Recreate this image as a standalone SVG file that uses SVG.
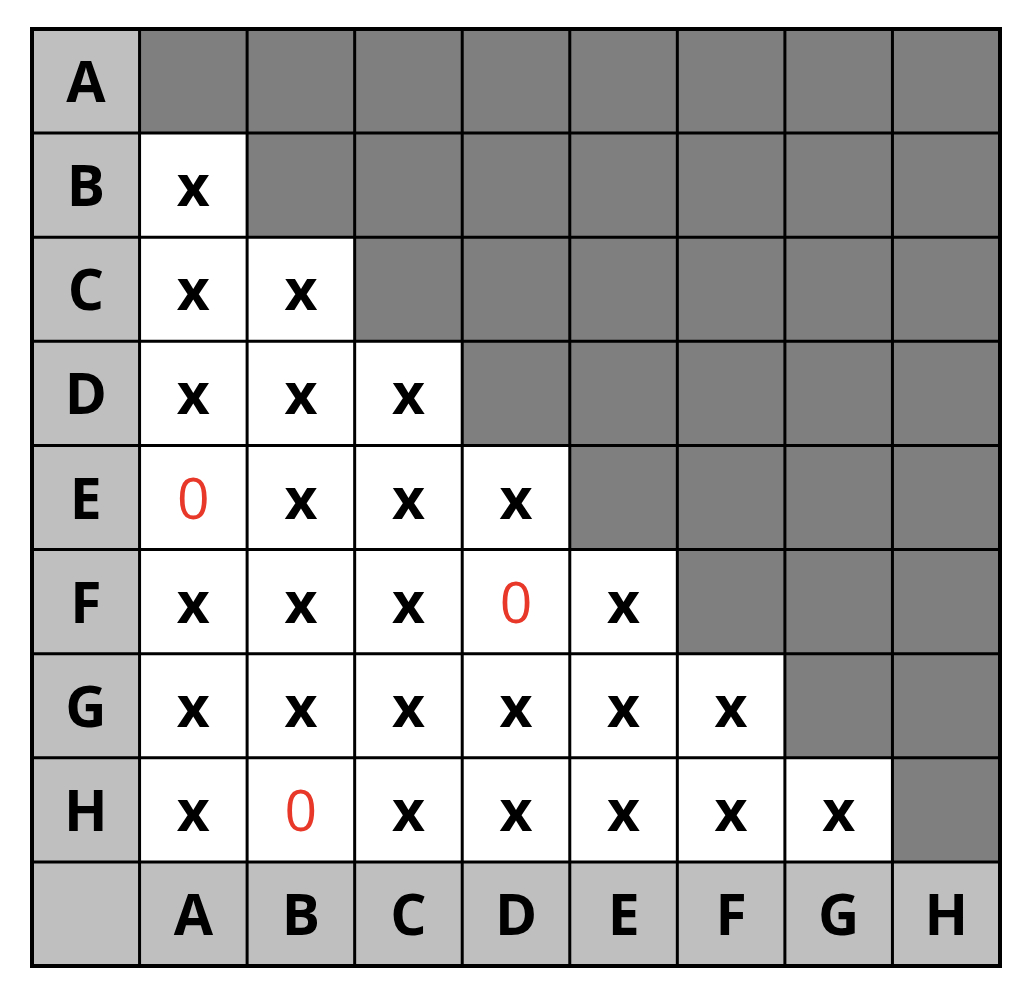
<svg xmlns="http://www.w3.org/2000/svg" width="1032" height="994" viewBox="0 0 1032 994">
<style>
.h{fill:#BFBFBF}
.d{fill:#7F7F7F}
.w{fill:#FFFFFF}
text{font-family:"Open Sans","Liberation Sans",sans-serif;font-size:57px;text-anchor:middle}
.b{font-weight:bold;fill:#000}
.z{font-weight:normal;fill:#E8382A}
.grid{fill:none;stroke:#000;stroke-width:3}
.outer{fill:none;stroke:#000;stroke-width:4}
</style>
<rect width="1032" height="994" fill="#FFFFFF"/>
<g id="row-A">
<rect class="h" x="32" y="29" width="107.56" height="104.11"/><text class="b" x="85.8" y="102.1">A</text>
<rect class="d" x="139.56" y="29" width="860.44" height="104.11"/>
</g>
<g id="row-B">
<rect class="h" x="32" y="133.11" width="107.56" height="104.11"/><text class="b" x="85.8" y="206.2">B</text>
<g id="B-A"><rect class="w" x="139.56" y="133.11" width="107.56" height="104.11"/><text class="b" x="193.3" y="206.2">x</text></g>
<rect class="d" x="247.11" y="133.11" width="752.89" height="104.11"/>
</g>
<g id="row-C">
<rect class="h" x="32" y="237.22" width="107.56" height="104.11"/><text class="b" x="85.8" y="310.3">C</text>
<g id="C-A"><rect class="w" x="139.56" y="237.22" width="107.56" height="104.11"/><text class="b" x="193.3" y="310.3">x</text></g>
<g id="C-B"><rect class="w" x="247.11" y="237.22" width="107.56" height="104.11"/><text class="b" x="300.9" y="310.3">x</text></g>
<rect class="d" x="354.67" y="237.22" width="645.33" height="104.11"/>
</g>
<g id="row-D">
<rect class="h" x="32" y="341.33" width="107.56" height="104.11"/><text class="b" x="85.8" y="414.4">D</text>
<g id="D-A"><rect class="w" x="139.56" y="341.33" width="107.56" height="104.11"/><text class="b" x="193.3" y="414.4">x</text></g>
<g id="D-B"><rect class="w" x="247.11" y="341.33" width="107.56" height="104.11"/><text class="b" x="300.9" y="414.4">x</text></g>
<g id="D-C"><rect class="w" x="354.67" y="341.33" width="107.56" height="104.11"/><text class="b" x="408.4" y="414.4">x</text></g>
<rect class="d" x="462.22" y="341.33" width="537.78" height="104.11"/>
</g>
<g id="row-E">
<rect class="h" x="32" y="445.44" width="107.56" height="104.11"/><text class="b" x="85.8" y="518.5">E</text>
<g id="E-A"><rect class="w" x="139.56" y="445.44" width="107.56" height="104.11"/><text class="z" x="193.3" y="518.5">0</text></g>
<g id="E-B"><rect class="w" x="247.11" y="445.44" width="107.56" height="104.11"/><text class="b" x="300.9" y="518.5">x</text></g>
<g id="E-C"><rect class="w" x="354.67" y="445.44" width="107.56" height="104.11"/><text class="b" x="408.4" y="518.5">x</text></g>
<g id="E-D"><rect class="w" x="462.22" y="445.44" width="107.56" height="104.11"/><text class="b" x="516.0" y="518.5">x</text></g>
<rect class="d" x="569.78" y="445.44" width="430.22" height="104.11"/>
</g>
<g id="row-F">
<rect class="h" x="32" y="549.56" width="107.56" height="104.11"/><text class="b" x="85.8" y="622.6">F</text>
<g id="F-A"><rect class="w" x="139.56" y="549.56" width="107.56" height="104.11"/><text class="b" x="193.3" y="622.6">x</text></g>
<g id="F-B"><rect class="w" x="247.11" y="549.56" width="107.56" height="104.11"/><text class="b" x="300.9" y="622.6">x</text></g>
<g id="F-C"><rect class="w" x="354.67" y="549.56" width="107.56" height="104.11"/><text class="b" x="408.4" y="622.6">x</text></g>
<g id="F-D"><rect class="w" x="462.22" y="549.56" width="107.56" height="104.11"/><text class="z" x="516.0" y="622.6">0</text></g>
<g id="F-E"><rect class="w" x="569.78" y="549.56" width="107.56" height="104.11"/><text class="b" x="623.6" y="622.6">x</text></g>
<rect class="d" x="677.33" y="549.56" width="322.67" height="104.11"/>
</g>
<g id="row-G">
<rect class="h" x="32" y="653.67" width="107.56" height="104.11"/><text class="b" x="85.8" y="726.7">G</text>
<g id="G-A"><rect class="w" x="139.56" y="653.67" width="107.56" height="104.11"/><text class="b" x="193.3" y="726.7">x</text></g>
<g id="G-B"><rect class="w" x="247.11" y="653.67" width="107.56" height="104.11"/><text class="b" x="300.9" y="726.7">x</text></g>
<g id="G-C"><rect class="w" x="354.67" y="653.67" width="107.56" height="104.11"/><text class="b" x="408.4" y="726.7">x</text></g>
<g id="G-D"><rect class="w" x="462.22" y="653.67" width="107.56" height="104.11"/><text class="b" x="516.0" y="726.7">x</text></g>
<g id="G-E"><rect class="w" x="569.78" y="653.67" width="107.56" height="104.11"/><text class="b" x="623.6" y="726.7">x</text></g>
<g id="G-F"><rect class="w" x="677.33" y="653.67" width="107.56" height="104.11"/><text class="b" x="731.1" y="726.7">x</text></g>
<rect class="d" x="784.89" y="653.67" width="215.11" height="104.11"/>
</g>
<g id="row-H">
<rect class="h" x="32" y="757.78" width="107.56" height="104.11"/><text class="b" x="85.8" y="830.8">H</text>
<g id="H-A"><rect class="w" x="139.56" y="757.78" width="107.56" height="104.11"/><text class="b" x="193.3" y="830.8">x</text></g>
<g id="H-B"><rect class="w" x="247.11" y="757.78" width="107.56" height="104.11"/><text class="z" x="300.9" y="830.8">0</text></g>
<g id="H-C"><rect class="w" x="354.67" y="757.78" width="107.56" height="104.11"/><text class="b" x="408.4" y="830.8">x</text></g>
<g id="H-D"><rect class="w" x="462.22" y="757.78" width="107.56" height="104.11"/><text class="b" x="516.0" y="830.8">x</text></g>
<g id="H-E"><rect class="w" x="569.78" y="757.78" width="107.56" height="104.11"/><text class="b" x="623.6" y="830.8">x</text></g>
<g id="H-F"><rect class="w" x="677.33" y="757.78" width="107.56" height="104.11"/><text class="b" x="731.1" y="830.8">x</text></g>
<g id="H-G"><rect class="w" x="784.89" y="757.78" width="107.56" height="104.11"/><text class="b" x="838.7" y="830.8">x</text></g>
<rect class="d" x="892.44" y="757.78" width="107.56" height="104.11"/>
</g>
<g id="col-labels">
<rect class="h" x="32" y="861.89" width="968" height="104.11"/>
<text class="b" x="193.3" y="934.9">A</text>
<text class="b" x="300.9" y="934.9">B</text>
<text class="b" x="408.4" y="934.9">C</text>
<text class="b" x="516.0" y="934.9">D</text>
<text class="b" x="623.6" y="934.9">E</text>
<text class="b" x="731.1" y="934.9">F</text>
<text class="b" x="838.7" y="934.9">G</text>
<text class="b" x="946.2" y="934.9">H</text>
</g>
<g id="grid-lines">
<path class="grid" d="M139.56 29V966M247.11 29V966M354.67 29V966M462.22 29V966M569.78 29V966M677.33 29V966M784.89 29V966M892.44 29V966M32 133.11H1000M32 237.22H1000M32 341.33H1000M32 445.44H1000M32 549.56H1000M32 653.67H1000M32 757.78H1000M32 861.89H1000"/>
<rect class="outer" x="32" y="29" width="968" height="937"/>
</g>
</svg>
